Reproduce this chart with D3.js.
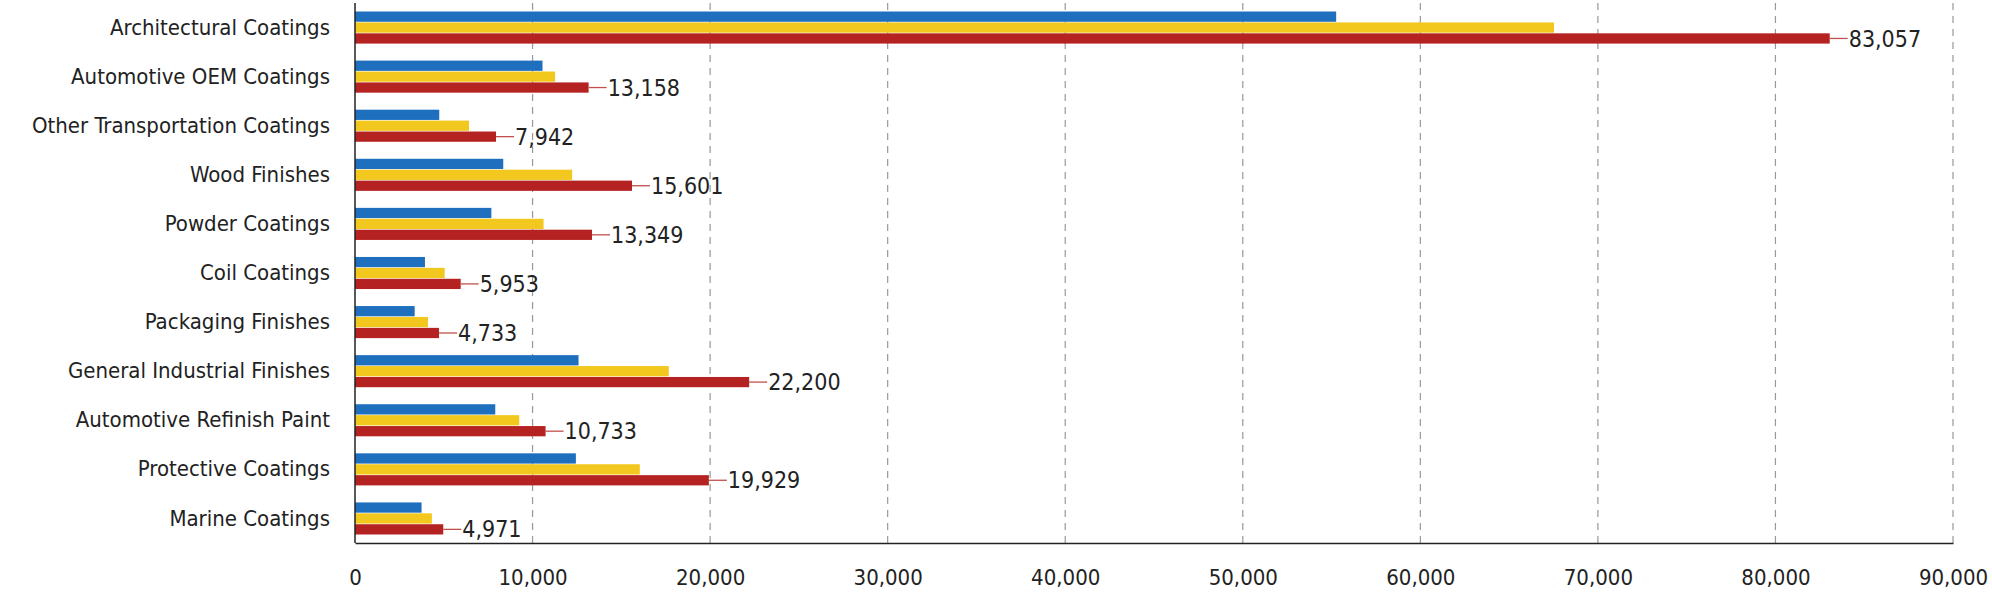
<!DOCTYPE html>
<html>
<head>
<meta charset="utf-8">
<script src="https://cdn.jsdelivr.net/npm/d3@7"></script>
<style>
  body { margin: 0; background: #fff; }
  text { font-family: "Liberation Sans Narrow", "DejaVu Sans Condensed", sans-serif; fill: #222; }
</style>
</head>
<body>
<svg id="chart" width="1992" height="599"></svg>
<script>
// categories, top to bottom
const categories = [
  "Architectural Coatings", "Automotive OEM Coatings", "Other Transportation Coatings",
  "Wood Finishes", "Powder Coatings", "Coil Coatings", "Packaging Finishes",
  "General Industrial Finishes", "Automotive Refinish Paint", "Protective Coatings", "Marine Coatings"
];
// three series (blue, yellow, red)
const seriesBlue   = [55260, 10560, 4745, 8350, 7680, 3940, 3360, 12590, 7900, 12440, 3750];
const seriesYellow = [67530, 11270, 6420, 12230, 10620, 5050, 4110, 17670, 9250, 16040, 4330];
const seriesRed    = [83057, 13158, 7942, 15601, 13349, 5953, 4733, 22200, 10733, 19929, 4971];
const xTicks = [0, 10000, 20000, 30000, 40000, 50000, 60000, 70000, 80000, 90000];

const colors = ["#1f6fbf", "#f2c81e", "#b52222"];
const series = [seriesBlue, seriesYellow, seriesRed];

const svg = d3.select("#chart");
const mLeft = 355, mRight = 1953, mTop = 3, mBottom = 543;

const x = d3.scaleLinear().domain([0, 90000]).range([mLeft, mRight]);
const y = d3.scaleBand().domain(categories).range([mTop, mBottom]).paddingInner(0.32).paddingOuter(0.16);
const sub = d3.scaleBand().domain([0, 1, 2]).range([0, y.bandwidth()]).padding(0.06);

// dashed gridlines
svg.append("g").selectAll("line")
  .data(xTicks.slice(1))
  .join("line")
  .attr("x1", d => x(d)).attr("x2", d => x(d))
  .attr("y1", mTop).attr("y2", mBottom)
  .attr("stroke", "#999").attr("stroke-width", 1.2).attr("stroke-dasharray", "7,6");

// bars
categories.forEach((c, i) => {
  series.forEach((s, k) => {
    svg.append("rect")
      .attr("x", x(0)).attr("y", y(c) + sub(k))
      .attr("width", x(s[i]) - x(0)).attr("height", sub.bandwidth())
      .attr("fill", colors[k]);
  });
  // leader line and value label on red bar
  const ry = y(c) + sub(2) + sub.bandwidth() / 2;
  svg.append("line")
    .attr("x1", x(seriesRed[i])).attr("x2", x(seriesRed[i]) + 18)
    .attr("y1", ry).attr("y2", ry)
    .attr("stroke", "#c0504d").attr("stroke-width", 1.3);
  svg.append("text")
    .attr("x", x(seriesRed[i]) + 19).attr("y", ry)
    .attr("dy", "0.35em").attr("font-size", 23)
    .text(d3.format(",")(seriesRed[i]));
});

// y axis
const yAxis = svg.append("g").attr("transform", `translate(${mLeft},0)`)
  .call(d3.axisLeft(y).tickSize(0).tickPadding(25));
yAxis.select(".domain").attr("stroke", "#222").attr("stroke-width", 1.5).attr("d", `M0,${mTop}V${mBottom}`);
yAxis.selectAll("text").attr("font-size", 22);

// x axis
const xAxis = svg.append("g").attr("transform", `translate(0,${mBottom})`)
  .call(d3.axisBottom(x).tickValues(xTicks).tickSize(0).tickPadding(26).tickFormat(d3.format(",")));
xAxis.select(".domain").attr("stroke", "#222").attr("stroke-width", 1.5);
xAxis.selectAll("text").attr("font-size", 22);
</script>
</body>
</html>
